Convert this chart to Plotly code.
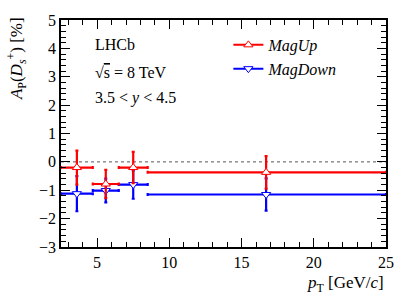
import plotly.graph_objects as go

bin_lo = [2.5, 4.7, 6.5, 8.5]
bin_hi = [4.7, 6.5, 8.5, 25.0]
pt_mean = [3.6, 5.6, 7.5, 16.7]

up_val = [-0.2, -0.78, -0.2, -0.37]
up_err = [0.6, 0.5, 0.55, 0.57]
down_val = [-1.12, -1.01, -0.8, -1.15]
down_err = [0.62, 0.42, 0.5, 0.57]

FONT = "Liberation Serif"
RED = "#ff0000"
BLUE = "#0000ff"

ex_plus = [h - m for h, m in zip(bin_hi, pt_mean)]
ex_minus = [m - l for l, m in zip(bin_lo, pt_mean)]

fig = go.Figure()

def add_data(vals, errs, color, symbol):
    fig.add_trace(go.Scatter(
        x=pt_mean, y=vals, mode="markers", showlegend=False,
        marker=dict(symbol=symbol, size=8, color="white", line=dict(color=color, width=1)),
        error_x=dict(type="data", symmetric=False, array=ex_plus, arrayminus=ex_minus,
                     color=color, thickness=2.2, width=1.5),
        error_y=dict(type="data", array=errs, color=color, thickness=2.2, width=1.5),
    ))

def add_legend(color, symbol, name, rank):
    fig.add_trace(go.Scatter(
        x=[None], y=[None], mode="lines+markers", name=name, legendrank=rank,
        line=dict(color=color, width=2),
        marker=dict(symbol=symbol, size=8, color="white", line=dict(color=color, width=1)),
    ))

add_data(down_val, down_err, BLUE, "triangle-down")
add_data(up_val, up_err, RED, "triangle-up")
add_legend(RED, "triangle-up", "<i>MagUp</i>", 1)
add_legend(BLUE, "triangle-down", "<i>MagDown</i>", 2)

fig.add_hline(y=0, line=dict(color="#555555", width=1, dash="dot"), layer="below")

axis_common = dict(
    showgrid=False, zeroline=False, showline=True, linecolor="black", linewidth=1.5,
    mirror="ticks", ticks="inside", ticklen=9, tickwidth=1.2, tickcolor="black",
    tickfont=dict(family=FONT, size=16, color="black"),
)

fig.update_xaxes(range=[2.5, 25], dtick=5, tick0=0,
                 minor=dict(ticks="inside", ticklen=5, dtick=1, tickcolor="black", tickwidth=1),
                 **axis_common)
fig.update_yaxes(range=[-3, 5], dtick=1, tick0=0,
                 minor=dict(ticks="inside", ticklen=5, dtick=0.2, tickcolor="black", tickwidth=1),
                 **axis_common)

labels = [(0.893, "LHCb"),
          (0.77, "√<span style='text-decoration:overline'>s</span> = 8 TeV"),
          (0.655, "3.5 < <i>y</i> < 4.5")]
for yy, txt in labels:
    fig.add_annotation(x=0.098, y=yy, xref="paper", yref="paper", text=txt,
                       showarrow=False, xanchor="left", yanchor="middle",
                       font=dict(family=FONT, size=16, color="black"))

fig.add_annotation(x=-0.135, y=1.02, xref="paper", yref="paper",
                   text="<i>A</i><sub>P</sub>(<i>D</i><sub><i>s</i></sub><sup>+</sup>) [%]",
                   textangle=-90, showarrow=False, xanchor="center", yanchor="top",
                   font=dict(family=FONT, size=17, color="black"))
fig.add_annotation(x=1.0, y=-0.105, xref="paper", yref="paper",
                   text="<i>p</i><sub>T</sub> [GeV/<i>c</i>]",
                   showarrow=False, xanchor="right", yanchor="top",
                   font=dict(family=FONT, size=17, color="black"))

fig.update_layout(
    width=407, height=295,
    margin=dict(l=61, r=21, t=15, b=48),
    font=dict(family=FONT, size=16, color="black"),
    plot_bgcolor="white", paper_bgcolor="white",
    showlegend=True,
    legend=dict(x=0.515, y=0.965, xanchor="left", yanchor="top",
                font=dict(family=FONT, size=16, color="black"),
                bgcolor="rgba(0,0,0,0)", itemwidth=30, tracegroupgap=4),
)

fig.write_html("out.html", config={"displayModeBar": False})
with open("out.html", "r", encoding="utf-8") as f:
    html = f.read()
html = html.replace("<body>", '<body style="margin:0;padding:0;overflow:hidden">', 1)
with open("out.html", "w", encoding="utf-8") as f:
    f.write(html)
